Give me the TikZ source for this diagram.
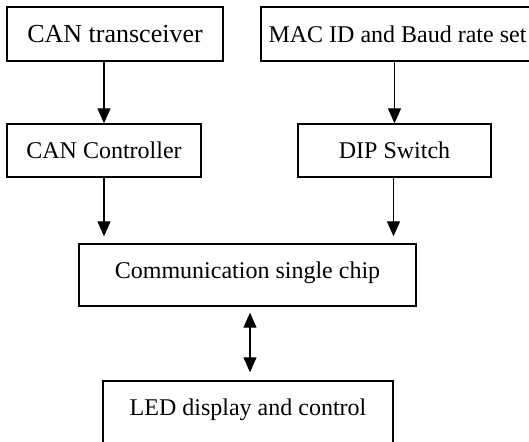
\documentclass[tikz,border=0pt]{standalone}
\usepackage{fontspec}
\setmainfont{Liberation Serif}
\usetikzlibrary{arrows.meta}
\begin{document}
\begin{tikzpicture}[x=1pt,y=-1pt,
  box/.style={draw, line width=1.4pt, rectangle, inner sep=0pt, font=\fontsize{24}{28}\selectfont},
  arr/.style={line width=1.2pt, -{Triangle[length=15pt,width=13pt]}},
  darr/.style={line width=1.2pt, {Triangle[length=15pt,width=13pt]}-{Triangle[length=15pt,width=13pt]}}]
\useasboundingbox (0,0) rectangle (529,441);
\node[box, minimum width=216pt, minimum height=54pt, font=\fontsize{26}{30}\selectfont] (ct) at (115,34) {CAN transceiver};
\node[box, minimum width=273pt, minimum height=54pt] (mac) at (397.5,34) {MAC ID and Baud rate set};
\node[box, minimum width=194pt, minimum height=53pt] (cc) at (104,150.5) {CAN Controller};
\node[box, minimum width=193pt, minimum height=53pt, text depth=1pt] (dip) at (394.5,150.5) {DIP Switch};
\node[box, minimum width=337pt, minimum height=62pt, text height=17pt, text depth=11pt] (comm) at (247.5,275) {Communication single chip};
\node[box, minimum width=290pt, minimum height=62pt, text height=16pt, text depth=10pt] (led) at (248,412) {LED display and control};
\draw[arr] (ct.south -| cc.north) -- (cc.north);
\draw[arr] (mac.south -| dip.north) -- (dip.north);
\draw[arr] (cc.south) -- ([yshift=7pt]cc.south |- comm.north);
\draw[arr] ([xshift=-1pt]dip.south) -- ([xshift=-1pt,yshift=7pt]dip.south |- comm.north);
\draw[darr] ([xshift=2.5pt,yshift=-6pt]comm.south) -- ([xshift=2pt,yshift=8pt]led.north);
\end{tikzpicture}
\end{document}
